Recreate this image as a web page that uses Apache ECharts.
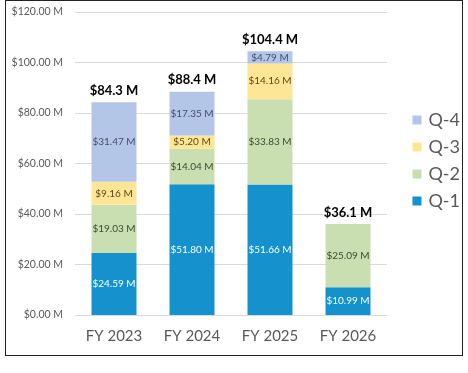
<!DOCTYPE html>
<html><head><meta charset="utf-8">
<script src="https://cdn.jsdelivr.net/npm/echarts@6/dist/echarts.min.js"></script>
<style>html,body{margin:0;padding:0;background:#fff}#frame{position:absolute;left:5px;top:0;width:456px;height:354px;border:1px solid #222;box-sizing:content-box}#c{position:absolute;left:0;top:0;width:468px;height:373px}</style>
</head><body><div id="frame"></div><div id="c"></div>
<script>
const categories = ['FY 2023', 'FY 2024', 'FY 2025', 'FY 2026'];
const q1 = [24.59, 51.80, 51.66, 10.99];
const q2 = [19.03, 14.04, 33.83, 25.09];
const q3 = [9.16, 5.20, 14.16, null];
const q4 = [31.47, 17.35, 4.79, null];
const totals = [84.3, 88.4, 104.4, 36.1];
const yTicks = [0, 20, 40, 60, 80, 100, 120];

const font = 'Lato, "Open Sans", sans-serif';
function seg(name, data, color, labelColor) {
  return {
    name, type: 'bar', stack: 'a', data, barWidth: 45,
    itemStyle: { color },
    label: { show: true, position: 'inside', color: labelColor, fontSize: 10, fontFamily: font,
      formatter: p => p.value == null ? '' : '$' + p.value.toFixed(2) + ' M' }
  };
}
const chart = echarts.init(document.getElementById('c'));
chart.setOption({
  animation: false,
  grid: { left: 75, right: 81, top: 12, bottom: 58 },
  legend: {
    orient: 'vertical', right: 3, top: 106, itemGap: 9, itemWidth: 9, itemHeight: 9,
    icon: 'rect', data: ['Q-4', 'Q-3', 'Q-2', 'Q-1'],
    textStyle: { fontSize: 18, color: '#595959', fontFamily: font, padding: [0,0,0,2] }
  },
  xAxis: {
    type: 'category', data: categories,
    axisLine: { show: false }, axisTick: { show: false },
    axisLabel: { fontSize: 15, color: '#595959', margin: 14, fontFamily: font }
  },
  yAxis: {
    type: 'value', min: yTicks[0], max: yTicks[yTicks.length - 1], interval: 20,
    axisLabel: { fontSize: 10.5, color: '#595959', margin: 12, fontFamily: font,
      formatter: v => '$' + v.toFixed(2) + ' M' },
    splitLine: { lineStyle: { color: '#D9D9D9' } }
  },
  series: [
    seg('Q-1', q1, '#1591CE', '#ffffff'),
    seg('Q-2', q2, '#C9DFB2', '#3B4A2E'),
    seg('Q-3', q3, '#FFE697', '#5A4A14'),
    seg('Q-4', q4, '#B4C6E7', '#3F4F6E'),
    {
      name: 'Total', type: 'bar', data: totals, barWidth: 45, barGap: '-100%', z: 5, silent: true,
      itemStyle: { color: 'rgba(0,0,0,0)' },
      label: { show: true, position: 'top', distance: 5, color: '#000', fontWeight: 'bold', fontSize: 13, fontFamily: font,
        formatter: p => '$' + p.value.toFixed(1) + ' M' }
    }
  ]
});
</script></body></html>
